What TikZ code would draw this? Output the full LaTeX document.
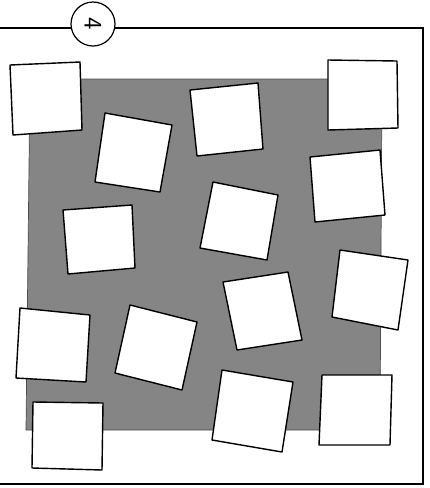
\documentclass[tikz,border=0pt]{standalone}
\usepackage{xcolor}
\usepackage{tikz}
\usetikzlibrary{positioning}

\begin{document}
\begin{tikzpicture}[
    x=0.02cm, y=-0.02cm,
    card/.style={draw, fill=white, line width=0.8pt, line join=round},
    ground/.style={fill=black!48, draw=black!70, line width=0.4pt},
    badge/.style={circle, draw, fill=white, line width=0.7pt, minimum size=0.88cm, inner sep=0pt, font=\sffamily\Large}
]
    \useasboundingbox (0,0) rectangle (430,488);
    % frame
    \draw[line width=0.7pt] (-3,28) rectangle (423,484);
    % gray ground
    \fill[ground] (30,79) -- (382,79) -- (380,430) -- (26,430) -- cycle;
    % number badge
    \node[badge] (num) at (93,24) {\rotatebox{-90}{4}};

    % cards, top row
    \draw[card] (10,65) -- (80,62) -- (82,130) -- (13,135) -- cycle;
    \draw[card] (190,90) -- (258,83) -- (263,149) -- (197,156) -- cycle;
    \draw[card] (328,60) -- (397,61) -- (398,128) -- (328,130) -- cycle;
    \draw[card] (105,113) -- (172,125) -- (160,192) -- (95,182) -- cycle;
    \draw[card] (310,157) -- (380,150) -- (385,215) -- (315,222) -- cycle;
    % middle
    \draw[card] (63,210) -- (132,205) -- (135,268) -- (68,274) -- cycle;
    \draw[card] (213,182) -- (278,195) -- (267,260) -- (200,248) -- cycle;
    \draw[card] (340,250) -- (408,260) -- (398,330) -- (332,317) -- cycle;
    \draw[card] (223,282) -- (288,272) -- (302,340) -- (237,350) -- cycle;
    % lower
    \draw[card] (20,308) -- (90,315) -- (86,382) -- (16,378) -- cycle;
    \draw[card] (130,305) -- (197,322) -- (182,390) -- (115,373) -- cycle;
    \draw[card] (222,370) -- (293,382) -- (282,452) -- (212,440) -- cycle;
    \draw[card] (322,375) -- (392,375) -- (390,445) -- (319,445) -- cycle;
    \draw[card] (33,402) -- (103,403) -- (102,470) -- (32,468) -- cycle;
\end{tikzpicture}
\end{document}
